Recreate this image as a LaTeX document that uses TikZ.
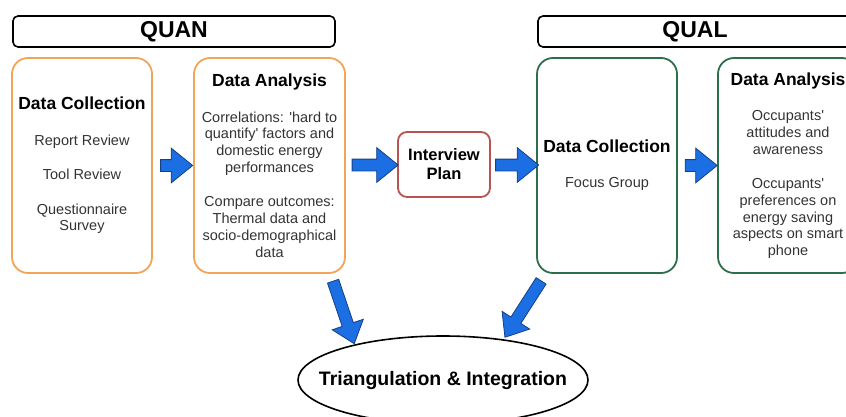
\documentclass[tikz,border=0pt]{standalone}
\usepackage{fontspec}
\setmainfont{Liberation Sans}
\usetikzlibrary{shapes.geometric,shapes.arrows,calc}
\definecolor{orangeC}{HTML}{F0A559}
\definecolor{greenC}{HTML}{2D6E4B}
\definecolor{redC}{HTML}{B85450}
\definecolor{bodyC}{HTML}{333333}
\definecolor{arrowFill}{HTML}{1C6FE3}
\definecolor{arrowEdge}{HTML}{163F85}
\newcommand\hdtxt[1]{{\fontsize{17.5}{20}\selectfont\bfseries\color{black}#1}}
\begin{document}
\begin{tikzpicture}[x=1pt,y=1pt,
  titlebox/.style={draw=black, line width=1.6pt, rounded corners=5pt, minimum height=31pt, font=\fontsize{23}{25}\selectfont\bfseries, inner sep=0pt},
  bigbox/.style={rounded corners=16pt, line width=1.8pt, minimum height=215pt, align=center, inner sep=0pt, font=\fontsize{14.5}{16.7}\selectfont, text=bodyC},
  blockarrow/.style={single arrow, draw=arrowEdge, fill=arrowFill, line width=0.8pt, minimum width=34pt, single arrow head extend=11.5pt, single arrow tip angle=78, inner sep=5.5pt, outer sep=0pt}
]
\useasboundingbox (0,0) rectangle (846,416);
\clip (0,0) rectangle (846,416);

% titles
\node[titlebox, minimum width=322pt] (quan) at (174,384.5) {QUAN};
\node[titlebox, minimum width=314pt] (qual) at (695,384.5) {QUAL};

% boxes
\node[bigbox, draw=orangeC, minimum width=140pt] (dc1) at (82,250.5)
  {\hdtxt{Data Collection}\\[19pt] Report Review\\[17.5pt] Tool Review\\[17.5pt] Questionnaire\\Survey};
\node[bigbox, draw=orangeC, minimum width=151pt] (da1) at (269.5,250.5)
  {\hdtxt{Data Analysis}\\[19pt] Correlations: \textquotesingle hard to\\quantify\textquotesingle{} factors and\\domestic energy\\performances\\[18pt] Compare outcomes:\\Thermal data and\\socio-demographical\\data};
\node[draw=redC, line width=1.8pt, rounded corners=9pt, minimum width=92pt, minimum height=65pt, inner sep=0pt, align=center, font=\fontsize{16.5}{19}\selectfont\bfseries] (ip) at (444,251.5) {Interview\\Plan};
\node[bigbox, draw=greenC, minimum width=140pt] (dc2) at (607,250.5)
  {\hdtxt{Data Collection}\\[18pt] Focus Group};
\node[bigbox, draw=greenC, minimum width=140pt] (da2) at (788,250.5)
  {\hdtxt{Data Analysis}\\[19pt] Occupants\textquotesingle\\attitudes and\\awareness\\[18pt] Occupants\textquotesingle\\preferences on\\energy saving\\aspects on smart\\phone};

% ellipse
\node[inner sep=0pt, font=\fontsize{19.5}{22}\selectfont\bfseries] (tri) at (443,36) {Triangulation \& Integration};
\draw[black, line width=1.6pt] (tri.center) ellipse [x radius=145pt, y radius=44pt];

% horizontal block arrows
\node[blockarrow, minimum height=32pt] (a1) at ($(dc1.east)!0.5!(da1.west)$) {};
\node[blockarrow, minimum height=46pt] (a2) at ($(da1.east)!0.5!(ip.west)$) {};
\node[blockarrow, minimum height=43pt] (a3) at ($(ip.east)!0.5!(dc2.west)$) {};
\node[blockarrow, minimum height=32pt] (a4) at ($(dc2.east)!0.5!(da2.west)$) {};

% diagonal block arrows
\node[blockarrow, minimum height=66pt, minimum width=32pt, single arrow head extend=10.5pt, rotate=-71.3] (a5) at (342.5,107) {};
\node[blockarrow, minimum height=67pt, minimum width=32pt, single arrow head extend=10.5pt, rotate=-122.7] (a6) at (525,110) {};
\end{tikzpicture}
\end{document}
